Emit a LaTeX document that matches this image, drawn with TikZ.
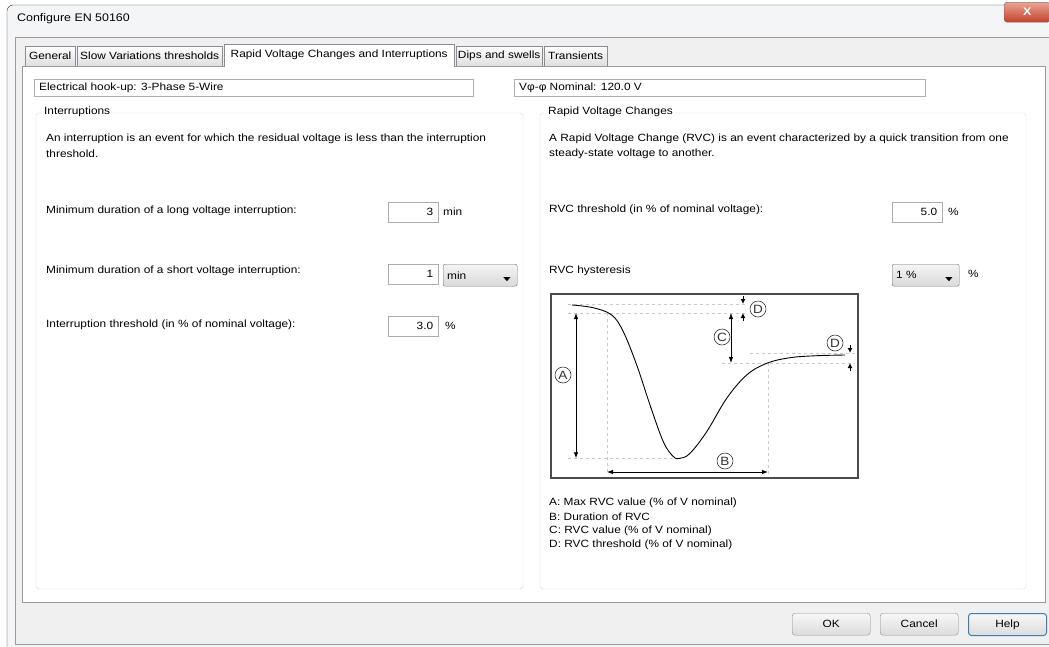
\documentclass[tikz,border=0pt]{standalone}
\usepackage{fontspec}
\setmainfont{Liberation Sans}[FakeStretch=1.13]
\usetikzlibrary{arrows.meta,positioning}

\definecolor{titlebg}{HTML}{F3F5F7}
\definecolor{clientbg}{HTML}{F0F0F0}
\definecolor{pageline}{HTML}{9A9A9A}
\definecolor{tabline}{HTML}{898C95}
\definecolor{groupline}{HTML}{D5DFE5}
\definecolor{fieldline}{HTML}{ABADB3}
\definecolor{comboline}{HTML}{707070}
\definecolor{guidegray}{HTML}{C8C8C8}
\definecolor{helpblue}{HTML}{3C7FB1}
\definecolor{closetop}{HTML}{E9A594}
\definecolor{closebot}{HTML}{C2412C}

\begin{document}
\begin{tikzpicture}[x=1pt,y=-1pt,
  every node/.style={inner sep=0pt,font=\fontsize{10.5}{13}\selectfont},
  lbl/.style={anchor=west},
  tabbox/.style={draw=tabline,top color=white,bottom color=black!13,anchor=north west,minimum height=20pt},
  field/.style={draw=fieldline,fill=white,anchor=north west},
  combo/.style={draw=comboline,rounded corners=2pt,top color=black!4,bottom color=black!15,anchor=north west,minimum height=22pt},
  grp/.style={draw=groupline,rounded corners=3pt},
  grptitle/.style={anchor=west,fill=white,inner xsep=2pt},
  btn/.style={draw=tabline,rounded corners=3pt,top color=black!3,bottom color=black!14,anchor=north west,minimum width=78pt,minimum height=22pt},
  guide/.style={draw=guidegray,dashed,line width=0.6pt},
  dim/.style={{Latex[length=6pt,width=4.5pt]}-{Latex[length=6pt,width=4.5pt]},line width=0.8pt},
  tick/.style={-{Latex[length=5pt,width=5pt]},line width=1pt},
  letter/.style={draw=black!80,circle,line width=0.6pt,minimum size=16pt,text=black!80,font=\fontsize{12}{12}\selectfont}]
%================================================================
%	Window
\useasboundingbox (0,0) rectangle (1049,646);
\filldraw[fill=titlebg,draw=black!80,rounded corners=6pt] (7,680) -- (7,5) -- (1080,5) -- (1080,680);
\node[lbl,font=\fontsize{11}{13}\selectfont] (title) at (17,19) {Configure EN 50160};
\node[draw=black!60,rounded corners=3pt,top color=closetop,bottom color=closebot,text=white,
  minimum width=46pt,minimum height=20pt,anchor=north west,font=\bfseries\fontsize{11}{11}\selectfont] (close) at (1004,2) {X};
\filldraw[fill=clientbg,draw=pageline] (15,37) rectangle (1070,644);
%================================================================
%	Tabs
\node[tabbox,minimum width=50pt] (general) at (25,46) {General};
\node[tabbox,minimum width=145pt] (slow) at (77,46) {Slow Variations thresholds};
\node[tabbox,minimum width=86pt] (dips) at (456,46) {Dips and swells};
\node[tabbox,minimum width=63pt] (trans) at (544,46) {Transients};
\filldraw[fill=white,draw=pageline] (22,66) rectangle (1045,602);
\node[draw=tabline,fill=white,anchor=north west,minimum width=230pt,minimum height=22pt] (rapid) at (224,44) {Rapid Voltage Changes and Interruptions};
\fill[white] (224.5,65) rectangle (453.5,67.5);
%----------------------------------------------------------------
\node[field,minimum width=439pt,minimum height=17pt] (hookup) at (34,79) {};
\node[lbl] at ([xshift=5pt]hookup.west) {Electrical hook-up: 3-Phase 5-Wire};
\node[field,minimum width=411pt,minimum height=17pt] (nominal) at (514,79) {};
\node[lbl] at ([xshift=5pt]nominal.west) {Vφ-φ Nominal: 120.0 V};
%================================================================
%	Interruptions
\draw[grp] (36,113) rectangle (523,589);
\node[grptitle] (intr) at (42,112) {Interruptions};
\node[lbl] (intr1) at (46,139) {An interruption is an event for which the residual voltage is less than the interruption};
\node[lbl] (intr2) at (46,154) {threshold.};
%----------------------------------------------------------------
\node[lbl] (longl) at (46,211) {Minimum duration of a long voltage interruption:};
\node[field,minimum width=50pt,minimum height=20pt] (longf) at (388,202) {};
\node[anchor=east] at ([xshift=-5pt]longf.east) {3};
\node[lbl] (longu) at (443,212) {min};
%----------------------------------------------------------------
\node[lbl] (shortl) at (46,271) {Minimum duration of a short voltage interruption:};
\node[field,minimum width=50pt,minimum height=20pt] (shortf) at (388,264) {};
\node[anchor=east] at ([xshift=-5pt]shortf.east) {1};
\node[combo,minimum width=74pt] (shortc) at (443,264) {};
\node[lbl] at ([xshift=4pt]shortc.west) {min};
\fill ([xshift=-14pt,yshift=-2pt]shortc.east) -- ++(7,0) -- ++(-3.5,4) -- cycle;
%----------------------------------------------------------------
\node[lbl] (thrl) at (46,325) {Interruption threshold (in \% of nominal voltage):};
\node[field,minimum width=50pt,minimum height=20pt] (thrf) at (388,316) {};
\node[anchor=east] at ([xshift=-5pt]thrf.east) {3.0};
\node[lbl] (thru) at (445,326) {\%};
%================================================================
%	Rapid Voltage Changes
\draw[grp] (540,113) rectangle (1026,589);
\node[grptitle] (rvc) at (546,112) {Rapid Voltage Changes};
\node[lbl] (rvc1) at (549,139) {A Rapid Voltage Change (RVC) is an event characterized by a quick transition from one};
\node[lbl] (rvc2) at (549,154) {steady-state voltage to another.};
%----------------------------------------------------------------
\node[lbl] (rvcl) at (549,210) {RVC threshold (in \% of nominal voltage):};
\node[field,minimum width=50pt,minimum height=20pt] (rvcf) at (892,202) {};
\node[anchor=east] at ([xshift=-5pt]rvcf.east) {5.0};
\node[lbl] (rvcu) at (948,212) {\%};
%----------------------------------------------------------------
\node[lbl] (hystl) at (549,271) {RVC hysteresis};
\node[combo,minimum width=67pt] (hystc) at (892,264) {};
\node[lbl] at ([xshift=4pt]hystc.west) {1 \%};
\node[lbl] (hystu) at (968,274) {\%};
\fill ([xshift=-14pt,yshift=-2pt]hystc.east) -- ++(7,0) -- ++(-3.5,4) -- cycle;
%================================================================
%	Chart
\draw[draw=black!70,line width=1.4pt] (551,294) rectangle (858,478);
\coordinate (start) at (572,305);
\coordinate (knee) at (607,313);
\coordinate (low) at (680,458.3);
\coordinate (settle) at (768,363);
\coordinate (finish) at (845,355);
%----------------------------------------------------------------
\draw[guide] (568,304) -- (745,304);
\draw[guide] (568,313) -- (745,313);
\draw[guide] (knee) -- (607,474);
\draw[guide] (568,458.3) -- (low);
\draw[guide] (settle) -- (768,474);
\draw[guide] (722,363) -- (855,363);
\draw[guide] (750,353) -- (855,353);
%----------------------------------------------------------------
\draw[line width=0.9pt] plot[smooth,tension=0.6] coordinates {(start) (593,307.7) (611.7,315) (623.3,331.7) (636.7,365) (650,405) (663.3,441.7) (673.3,456.5) (low) (690,453.3) (706.7,431.7) (726.7,398.3) (746.7,375) (766.7,363.3) (790,357.7) (816.7,355.7) (finish)};
%----------------------------------------------------------------
\draw[dim] (576,313) -- (576,458.3);
\draw[dim] (607,472) -- (768,472);
\draw[dim] (731,313) -- (731,363);
\draw[tick] (743,296) -- (743,304);
\draw[tick] (743,321) -- (743,313);
\draw[tick] (850,345) -- (850,353);
\draw[tick] (850,371) -- (850,363);
%----------------------------------------------------------------
\node[letter] (la) at (563,375) {A};
\node[letter] (lb) at (725,461) {B};
\node[letter] (lc) at (722,337) {C};
\node[letter] (ld1) at (758,309) {D};
\node[letter] (ld2) at (835,343) {D};
%----------------------------------------------------------------
\node[lbl] (key1) at (549,503) {A: Max RVC value (\% of V nominal)};
\node[lbl] (key2) at (549,517) {B: Duration of RVC};
\node[lbl] (key3) at (549,531) {C: RVC value (\% of V nominal)};
\node[lbl] (key4) at (549,545) {D: RVC threshold (\% of V nominal)};
%================================================================
%	Buttons
\node[btn] (ok) at (792,613) {OK};
\node[btn] (cancel) at (880,613) {Cancel};
\node[btn,draw=helpblue,line width=1pt] (help) at (968,613) {Help};
%================================================================
\end{tikzpicture}
\end{document}
